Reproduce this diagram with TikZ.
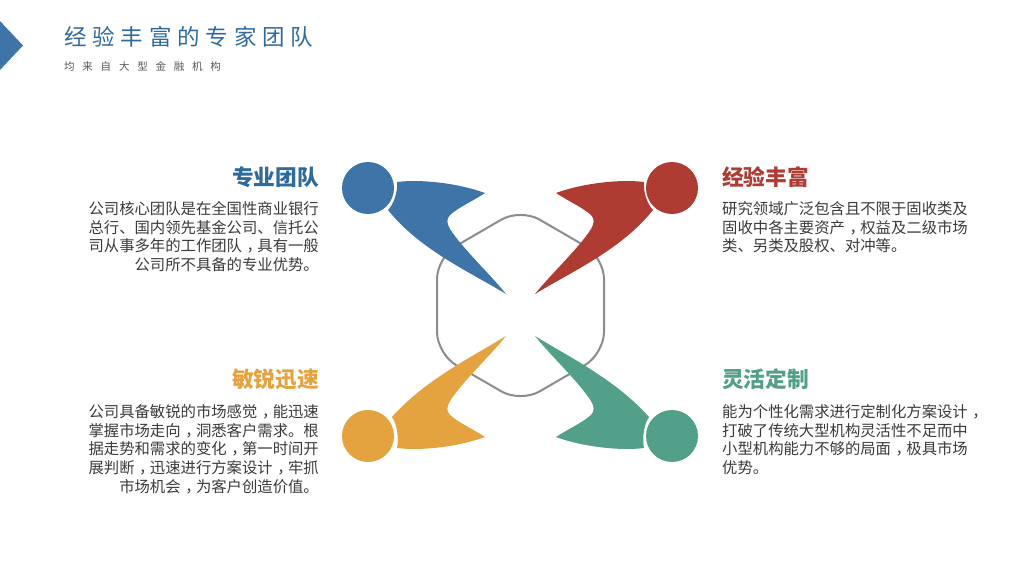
\documentclass[tikz,border=0pt]{standalone}
\usepackage{fontspec}
\setmainfont{Noto Sans CJK SC}
\definecolor{cblue}{HTML}{3F74A8}
\definecolor{cred}{HTML}{AE3C33}
\definecolor{cyel}{HTML}{E5A33F}
\definecolor{cgrn}{HTML}{52A08A}
\definecolor{ctitle}{HTML}{2F6A9E}
\definecolor{ctxt}{HTML}{3A3A3A}
\newcommand{\fs}[1]{\fontsize{#1}{#1}\selectfont}
\newcommand{\cma}{\kern.3em，\kern-.3em}
\newcommand{\bodya}{%
  (397,182) .. controls (420,179) and (458,183) .. (485,193)
  .. controls (473,201) and (459,207) .. (450,215)
  .. controls (446,219) and (447,224) .. (450,229)
  .. controls (462,248) and (490,274) .. (506,294)
  .. controls (470,272) and (420,250) .. (388,210)
  .. controls (393,205) and (398,193) .. (397,182) -- cycle}
\newcommand{\bodyb}{%
  (397,182) .. controls (420,179) and (458,183) .. (485,193)
  .. controls (473,201) and (459,207) .. (450,215)
  .. controls (446,219) and (447,224) .. (450,229)
  .. controls (462,248) and (490,274) .. (506,294)
  .. controls (470,272) and (425,250) .. (392,213)
  .. controls (397,206) and (399,192) .. (397,182) -- cycle}
\tikzset{
  head/.style={font=\bfseries\fs{21.7},inner sep=0pt},
  para/.style={font=\fontsize{15.35}{18.6}\selectfont,text=ctxt,inner sep=0pt},
  paraR/.style={para,align=right,anchor=north east},
  paraL/.style={para,align=left,anchor=north west},
  blob/.style={fill=#1,draw=none},
  disc/.style={circle,minimum size=52pt,inner sep=0pt,fill=#1,draw=none}
}
\begin{document}
\begin{tikzpicture}[x=1pt,y=-1pt]
\useasboundingbox (0,0) rectangle (1024,566);
\fill[cblue] (-1,20) -- (23,45.5) -- (-1,71) -- cycle;
\node[font=\fs{22.5},text=ctitle,anchor=west,inner sep=0pt] (title) at (64,37) {\addfontfeature{LetterSpace=26}经验丰富的专家团队};
\node[font=\fs{10.5},text=ctxt!85,anchor=west,inner sep=0pt] (sub) at (64,66) {\addfontfeature{LetterSpace=74}均来自大型金融机构};
\draw[line width=2pt,color=black!45,rounded corners=22pt] (520.5,208.5) -- (604,257) -- (604,354) -- (520.5,402.5) -- (437,354) -- (437,257) -- cycle;
\fill[blob=cblue] \bodya;
\begin{scope}[xshift=1041pt,x=-1pt]\fill[blob=cred] \bodya;\end{scope}
\begin{scope}[yshift=-630pt,y=1pt]\fill[blob=cyel] \bodyb;\end{scope}
\begin{scope}[xshift=1041pt,x=-1pt,yshift=-630pt,y=1pt]\fill[blob=cgrn] \bodyb;\end{scope}
\node[disc=cblue] (d1) at (368,188) {};
\node[disc=cred] (d2) at (672,188) {};
\node[disc=cyel] (d3) at (368,436) {};
\node[disc=cgrn] (d4) at (672,436) {};
\node[head,text=ctitle,anchor=east] (h1) at (319,177) {专业团队};
\node[head,text=cred,anchor=west] (h2) at (722,177) {经验丰富};
\node[head,text=cyel,anchor=east] (h3) at (319,379) {敏锐迅速};
\node[head,text=cgrn,anchor=west] (h4) at (722,379) {灵活定制};
\node[paraR] (p1) at (319,201.5) {公司核心团队是在全国性商业银行\\总行、国内领先基金公司、信托公\\司从事多年的工作团队\cma 具有一般\\公司所不具备的专业优势。};
\node[paraL] (p2) at (722,201.5) {研究领域广泛包含且不限于固收类及\\固收中各主要资产\cma 权益及二级市场\\类、另类及股权、对冲等。};
\node[paraR] (p3) at (319,404.5) {公司具备敏锐的市场感觉\cma 能迅速\\掌握市场走向\cma 洞悉客户需求。根\\据走势和需求的变化\cma 第一时间开\\展判断\cma 迅速进行方案设计\cma 牢抓\\市场机会\cma 为客户创造价值。};
\node[paraL] (p4) at (722,404.5) {能为个性化需求进行定制化方案设计\cma \\打破了传统大型机构灵活性不足而中\\小型机构能力不够的局面\cma 极具市场\\优势。};
\end{tikzpicture}
\end{document}
